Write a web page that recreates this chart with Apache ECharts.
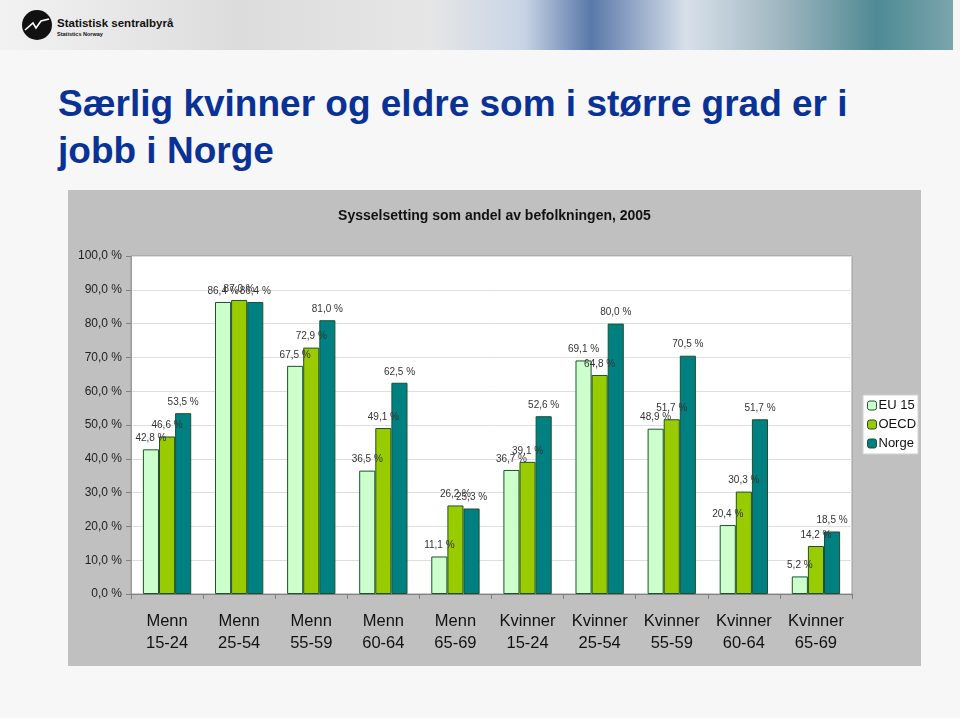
<!DOCTYPE html>
<html><head><meta charset="utf-8">
<script src="https://cdn.jsdelivr.net/npm/echarts@6/dist/echarts.min.js"></script>
<style>
html,body{margin:0;padding:0;width:960px;height:718px;background:#f7f7f7;overflow:hidden;font-family:"Liberation Sans",Arial,sans-serif;}
#banner{position:absolute;left:0;top:0;width:953px;height:50px;
background:linear-gradient(90deg,#f2f2f2 0%,#dcdcdc 25%,#e6e6e6 45%,#c8d4e6 55%,#5a78a8 62%,#d8e0ea 72%,#9fb6c0 82%,#4f8a94 92%,#7aa5ad 100%);}
#logo{position:absolute;left:22px;top:10px;}
#lt1{position:absolute;left:57px;top:17px;font-size:11.5px;font-weight:bold;color:#111;}
#lt2{position:absolute;left:57px;top:31px;font-size:5.5px;font-weight:bold;color:#111;}
#heading{position:absolute;left:58px;top:80px;font-size:37px;line-height:47px;font-weight:bold;color:#0a3296;width:860px;}
#chart{position:absolute;left:68px;top:190px;width:853px;height:476px;}
</style></head>
<body>
<div id="banner"></div>
<svg id="logo" width="30" height="30" viewBox="0 0 30 30"><circle cx="15" cy="15" r="15" fill="#111"/><polyline points="3,20 11,13 14,18 19,11 27,9" fill="none" stroke="#fff" stroke-width="1.6"/></svg>
<div id="lt1">Statistisk sentralbyrå</div>
<div id="lt2">Statistics Norway</div>
<div id="heading">Særlig kvinner og eldre som i større grad er i jobb i Norge</div>
<div id="chart"></div>
<script>
const categories = ["Menn\n15-24","Menn\n25-54","Menn\n55-59","Menn\n60-64","Menn\n65-69","Kvinner\n15-24","Kvinner\n25-54","Kvinner\n55-59","Kvinner\n60-64","Kvinner\n65-69"];
const eu15  = [42.8, 86.4, 67.5, 36.5, 11.1, 36.7, 69.1, 48.9, 20.4, 5.2];
const oecd  = [46.6, 87.0, 72.9, 49.1, 26.2, 39.1, 64.8, 51.7, 30.3, 14.2];
const norge = [53.5, 86.4, 81.0, 62.5, 25.3, 52.6, 80.0, 70.5, 51.7, 18.5];
const seriesNames = ["EU 15","OECD","Norge"];
const chartTitle = "Sysselsetting som andel av befolkningen, 2005";

const fmt = v => v.toFixed(1).replace('.', ',') + ' %';
const colors = ['#ccffcc','#99cc00','#008080'];
const chart = echarts.init(document.getElementById('chart'), null, {renderer:'canvas'});
function mk(name, data, i){
  return {name:name, type:'bar', data:data, barGap:'0%', barCategoryGap:'33%',
    itemStyle:{color:colors[i], borderColor:'#1f4f2f', borderWidth:1},
    label:{show:true, position:'top', distance:6, fontSize:10, color:'#333',
      fontFamily:'Liberation Sans', formatter:p=>fmt(p.value)},
    emphasis:{disabled:true}, animation:false};
}
chart.setOption({
  animation:false,
  backgroundColor:'#c0c0c0',
  title:{text:chartTitle, left:'center', top:14,
    textStyle:{fontSize:14, fontWeight:'bold', color:'#111', fontFamily:'Liberation Sans'}},
  legend:{orient:'vertical', left:795, top:205, itemWidth:9, itemHeight:9, itemGap:6,
    backgroundColor:'#ffffff', borderColor:'#d0d0d0', borderWidth:1, padding:[4,2,4,4],
    textStyle:{fontSize:13, color:'#111', fontFamily:'Liberation Sans', padding:[0,0,0,-3]},
    itemStyle:{borderColor:'#1f4f2f', borderWidth:1},
    data:seriesNames},
  grid:{left:63, right:69, top:66, bottom:72, show:true, backgroundColor:'#ffffff', borderColor:'#9a9a9a', borderWidth:1},
  xAxis:{type:'category', data:categories,
    axisLine:{lineStyle:{color:'#808080'}},
    axisTick:{show:true, length:5, lineStyle:{color:'#808080'}},
    axisLabel:{fontSize:16.5, lineHeight:22, color:'#111', margin:16, fontFamily:'Liberation Sans', interval:0}},
  yAxis:{type:'value', min:0, max:100, interval:10,
    axisLine:{show:true, lineStyle:{color:'#9a9a9a'}},
    axisTick:{show:true, length:5, lineStyle:{color:'#808080'}},
    splitLine:{lineStyle:{color:'#dedede', width:1}},
    axisLabel:{fontSize:12, color:'#222', margin:9, fontFamily:'Liberation Sans', formatter:v=>fmt(v)}},
  series:[mk(seriesNames[0], eu15, 0), mk(seriesNames[1], oecd, 1), mk(seriesNames[2], norge, 2)]
});
</script>
</body></html>
